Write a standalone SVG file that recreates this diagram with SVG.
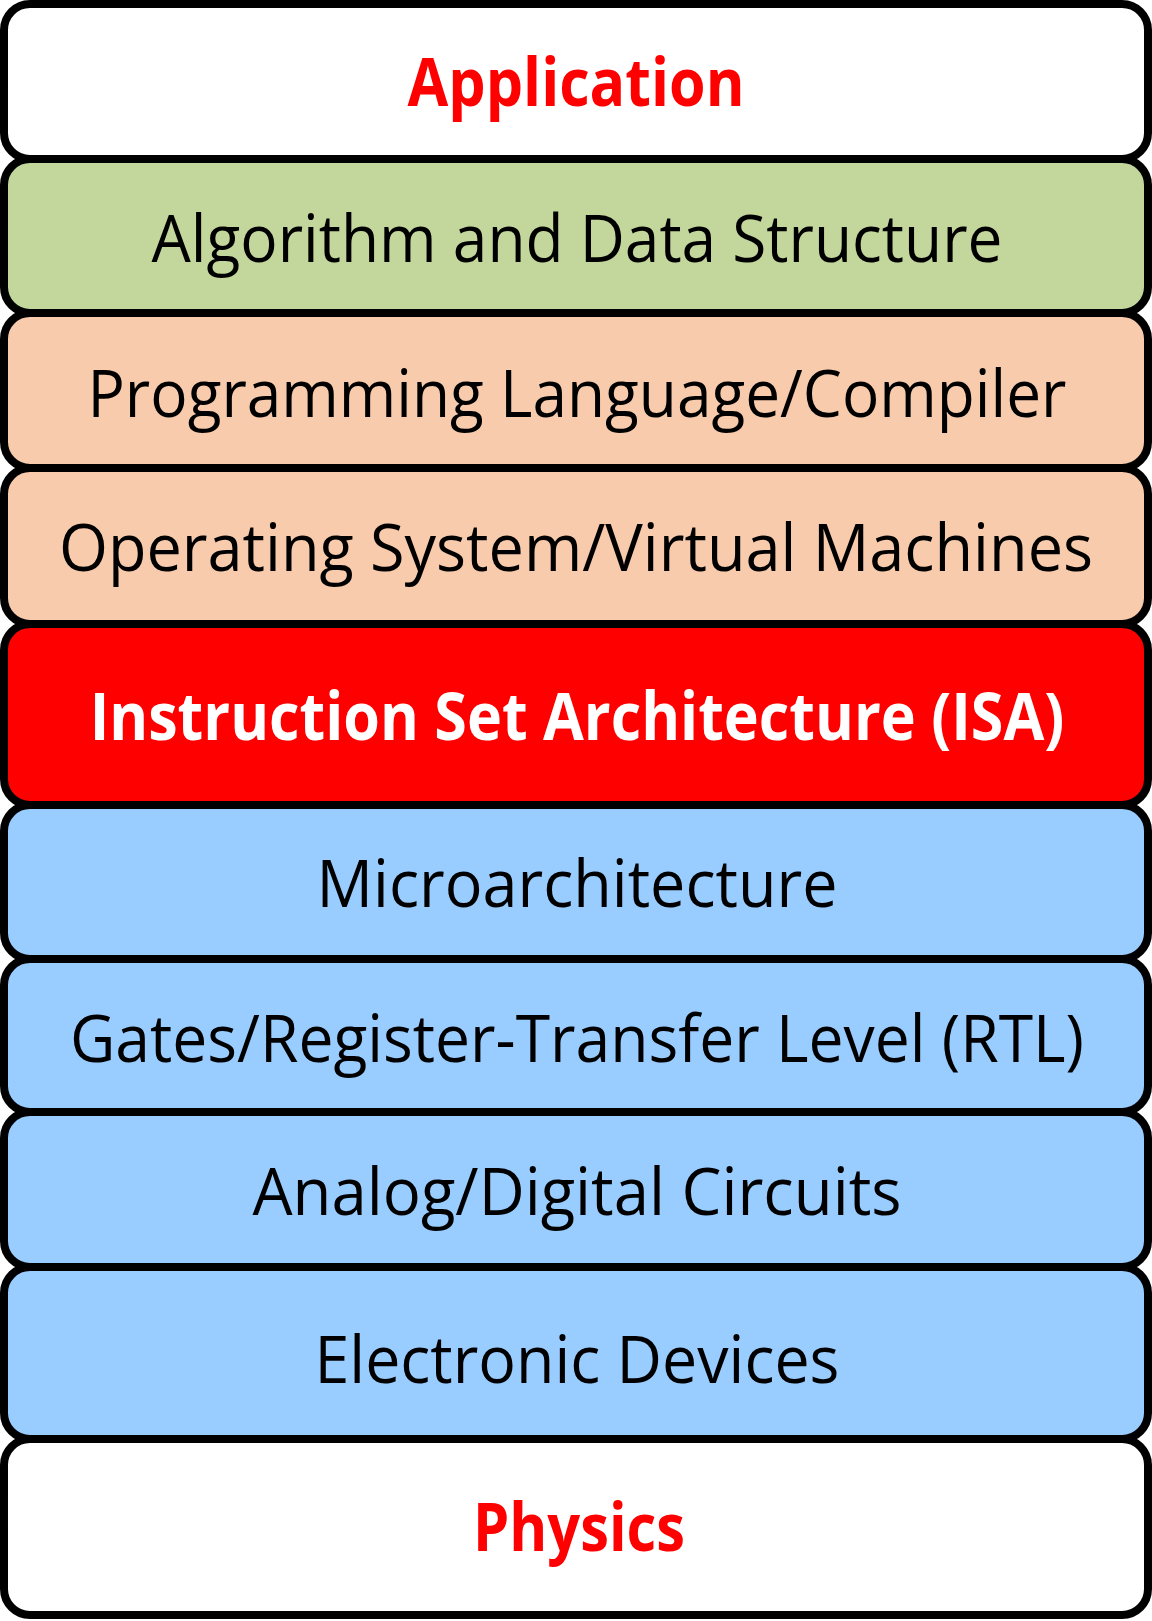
<svg xmlns="http://www.w3.org/2000/svg" width="1152" height="1621" viewBox="0 0 1152 1621">
  <style>
    .layer { stroke: #000; stroke-width: 8; }
    .t { font-family: "Open Sans", "Liberation Sans", sans-serif; font-size: 66px; text-anchor: middle; fill: #000; }
    .b { font-weight: bold; }
    .red { fill: #ff0000; }
    .white { fill: #ffffff; }
  </style>
  <rect width="1152" height="1621" fill="#ffffff"/>
  <g id="application">
    <rect class="layer" x="4" y="4" width="1144" height="155" rx="26" fill="#ffffff"/>
    <text class="t b red" x="576" y="106" textLength="337" lengthAdjust="spacingAndGlyphs">Application</text>
  </g>
  <g id="algorithm">
    <rect class="layer" x="4" y="159" width="1144" height="154" rx="26" fill="#c3d69b"/>
    <text class="t" x="577" y="262" textLength="851" lengthAdjust="spacingAndGlyphs">Algorithm and Data Structure</text>
  </g>
  <g id="language">
    <rect class="layer" x="4" y="313" width="1144" height="155" rx="26" fill="#f8cbad"/>
    <text class="t" x="577" y="417" textLength="979" lengthAdjust="spacingAndGlyphs">Programming Language/Compiler</text>
  </g>
  <g id="os">
    <rect class="layer" x="4" y="468" width="1144" height="156" rx="26" fill="#f8cbad"/>
    <text class="t" x="576" y="571" textLength="1034" lengthAdjust="spacingAndGlyphs">Operating System/Virtual Machines</text>
  </g>
  <g id="isa">
    <rect class="layer" x="4" y="624" width="1144" height="181" rx="26" fill="#ff0000"/>
    <!-- bold label is condensed horizontally so it sits well inside the band -->
    <text class="t b white" transform="translate(577 740) scale(0.895 1)" x="0" y="0" textLength="1089" lengthAdjust="spacingAndGlyphs">Instruction Set Architecture (ISA)</text>
  </g>
  <g id="microarchitecture">
    <rect class="layer" x="4" y="805" width="1144" height="154" rx="26" fill="#99ccff"/>
    <text class="t" x="577" y="907" textLength="521" lengthAdjust="spacingAndGlyphs">Microarchitecture</text>
  </g>
  <g id="rtl">
    <rect class="layer" x="4" y="959" width="1144" height="153" rx="26" fill="#99ccff"/>
    <text class="t" x="577" y="1062" textLength="1014" lengthAdjust="spacingAndGlyphs">Gates/Register-Transfer Level (RTL)</text>
  </g>
  <g id="circuits">
    <rect class="layer" x="4" y="1112" width="1144" height="155" rx="26" fill="#99ccff"/>
    <text class="t" x="577" y="1215" textLength="649" lengthAdjust="spacingAndGlyphs">Analog/Digital Circuits</text>
  </g>
  <g id="devices">
    <rect class="layer" x="4" y="1267" width="1144" height="172" rx="26" fill="#99ccff"/>
    <text class="t" x="577" y="1383" textLength="525" lengthAdjust="spacingAndGlyphs">Electronic Devices</text>
  </g>
  <g id="physics">
    <rect class="layer" x="4" y="1439" width="1144" height="176" rx="26" fill="#ffffff"/>
    <text class="t b red" x="579" y="1551" textLength="212" lengthAdjust="spacingAndGlyphs">Physics</text>
  </g>
  <g id="connectors"/>
</svg>
